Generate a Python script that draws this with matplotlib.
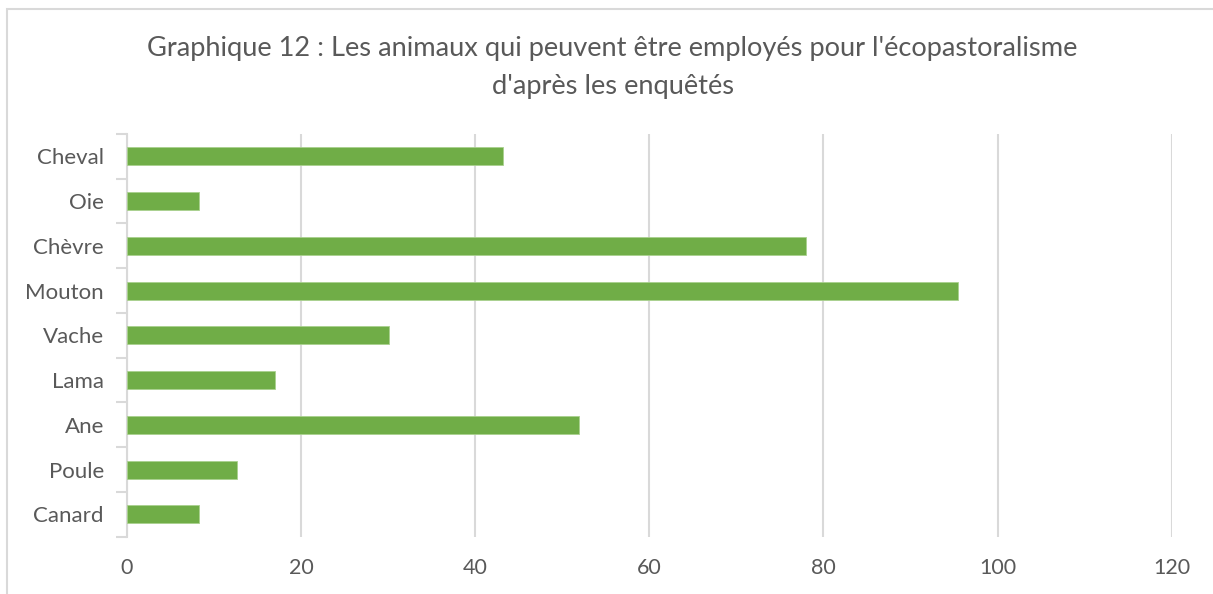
import numpy as np
import matplotlib.pyplot as plt
from matplotlib.patches import Rectangle

animaux = ['Cheval', 'Oie', 'Chèvre', 'Mouton', 'Vache', 'Lama', 'Ane', 'Poule', 'Canard']
valeurs = [43.2, 8.3, 78.0, 95.4, 30.1, 17.0, 51.9, 12.7, 8.3]
x_ticks = [0, 20, 40, 60, 80, 100, 120]

gris_texte = '#595959'
gris_ligne = '#D9D9D9'
vert = '#70AD47'

plt.rcParams['font.family'] = ['Lato', 'DejaVu Sans']

fig = plt.figure(figsize=(12.13, 5.94), dpi=100)
ax = fig.add_axes([0.1045, 0.0965, 0.8615, 0.678])

y = np.arange(len(animaux))
ax.barh(y, valeurs, height=0.4, color=vert, edgecolor='#A9D18E', linewidth=0.6, zorder=3)

ax.set_xlim(0, 120)
ax.set_ylim(len(animaux) - 0.5, -0.5)
ax.set_xticks(x_ticks)
ax.set_xticklabels([str(t) for t in x_ticks], fontsize=15.5, color=gris_texte)
ax.set_yticks(y)
ax.set_yticklabels(animaux, fontsize=16, color=gris_texte)
ax.set_yticks(np.arange(len(animaux) + 1) - 0.5, minor=True)

ax.tick_params(axis='y', which='major', length=0, pad=16.5)
ax.tick_params(axis='y', which='minor', length=8, width=1.5, color=gris_ligne, direction='out')
ax.tick_params(axis='x', which='major', length=0, pad=15)

ax.grid(axis='x', color=gris_ligne, linewidth=1.5, zorder=0)
for side in ['top', 'right', 'bottom']:
    ax.spines[side].set_visible(False)
ax.spines['left'].set_color(gris_ligne)
ax.spines['left'].set_linewidth(1.5)

fig.text(0.505, 0.919, "Graphique 12 : Les animaux qui peuvent être employés pour l'écopastoralisme",
         ha='center', va='center', fontsize=19.6, color=gris_texte)
fig.text(0.505, 0.854, "d'après les enquêtés", ha='center', va='center',
         fontsize=19.6, color=gris_texte)

fig.patches.append(Rectangle((7 / 1213, -0.1), 1.2, 1.1 - 9 / 594, transform=fig.transFigure,
                             fill=False, edgecolor=gris_ligne, linewidth=1.5))

fig.savefig('out.png', dpi=100)
